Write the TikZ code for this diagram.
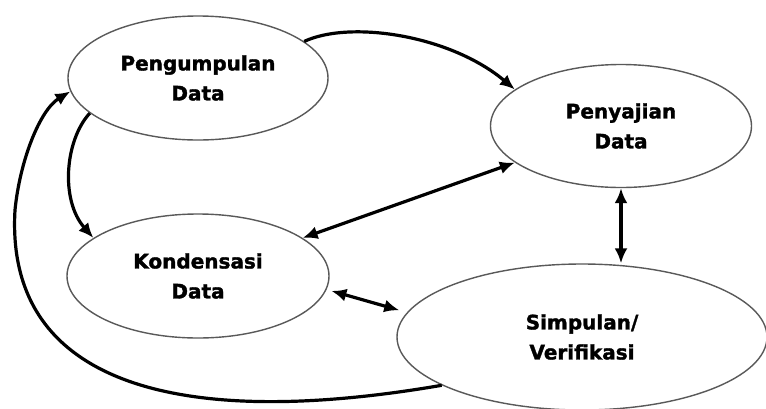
\documentclass[tikz,border=0pt]{standalone}
\usepackage{fontspec}
\setmainfont{DejaVu Sans}
\newfontfamily\stagefont{DejaVu Sans Bold}[FakeBold=1.6]
\usetikzlibrary{shapes.geometric,arrows.meta}

\tikzset{
  stage/.style={ellipse, draw=black!65, line width=1.4pt, fill=white,
    inner sep=0pt, align=center,
    font=\fontsize{20}{30}\selectfont\stagefont},
  tipshape/.style={},
  flow/.style={line width=3.2pt, draw=black,
    -{Latex[length=15pt,width=13pt]}},
  twoway/.style={line width=3.2pt, draw=black,
    {Latex[length=15pt,width=13pt]}-{Latex[length=15pt,width=13pt]}}
}

\begin{document}
\begin{tikzpicture}[x=1pt,y=-1pt]
  \useasboundingbox (0,0) rectangle (766,408);
  \fill[white] (0,0) rectangle (766,408);

  % the four stages of the interactive model
  \node[stage, minimum width=260pt, minimum height=124pt] (P) at (198,78)
    {Pengumpulan\\Data};
  \node[stage, minimum width=261pt, minimum height=123pt] (S) at (621,126)
    {Penyajian\\Data};
  \node[stage, minimum width=262pt, minimum height=124pt] (K) at (198,276)
    {Kondensasi\\Data};
  \node[stage, minimum width=370pt, minimum height=146pt] (V) at (582,337)
    {Simpulan/\\Verifikasi};

  % one-way flows
  \draw[flow] (P.19) .. controls (350,20) and (450,35) .. (S.161);
  \draw[flow] (P.198) .. controls (65,140) and (60,200) .. (K.160);
  \coordinate (turn) at (15,210);
  \draw[line width=3.2pt] (V.199) .. controls (170,432) and (5,380) .. (turn);
  \draw[flow] (turn) .. controls (20,160) and (40,110) .. (P.186);

  % two-way links
  \draw[twoway] (S.199) -- (K.20);
  \draw[twoway, shorten <=5pt, shorten >=8pt] (K.-6) -- (V.172);
  \draw[twoway] (S.south) -- (S.south |- V.north);
\end{tikzpicture}
\end{document}
